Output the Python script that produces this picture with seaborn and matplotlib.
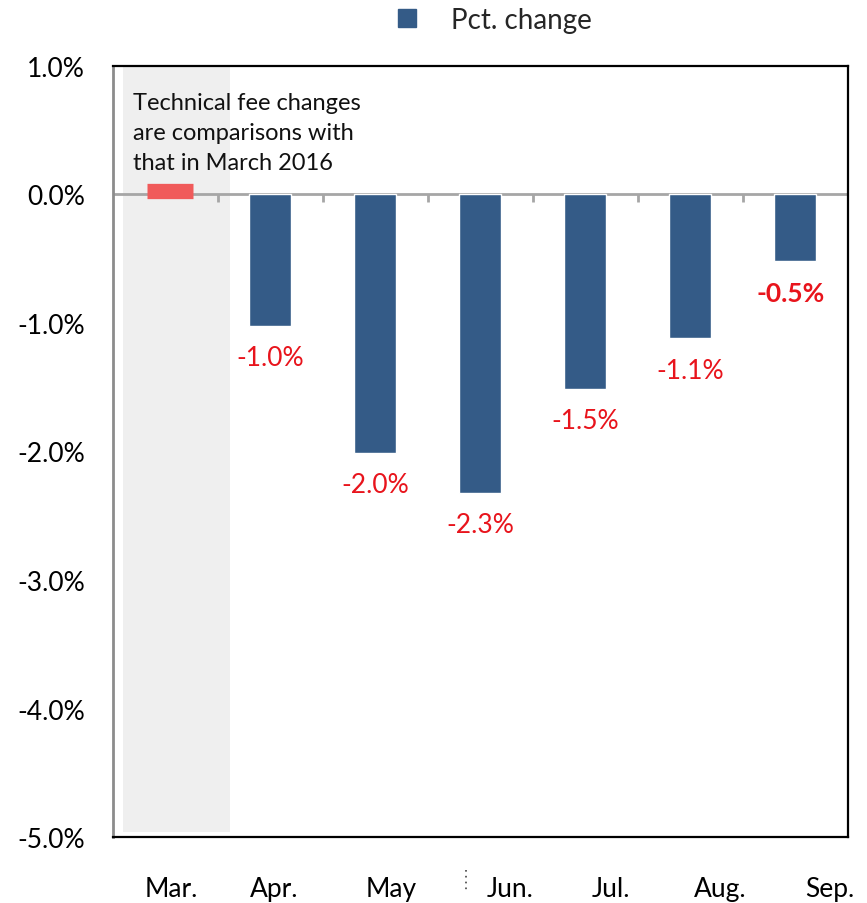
import matplotlib.pyplot as plt
import matplotlib.transforms as mtransforms
from matplotlib.lines import Line2D
import numpy as np
import pandas as pd
import seaborn as sns

# data
months = ["Mar.", "Apr.", "May", "Jun.", "Jul.", "Aug.", "Sep."]
pct_change = [0.0, -1.02, -2.01, -2.32, -1.51, -1.12, -0.52]
value_labels = ["", "-1.0%", "-2.0%", "-2.3%", "-1.5%", "-1.1%", "-0.5%"]
yticks = [1.0, 0.0, -1.0, -2.0, -3.0, -4.0, -5.0]

BLUE = "#345b87"
RED_BAR = "#f05a5a"
RED_TXT = "#e8141c"
GREY = "#8c8c8c"

sns.set_theme(style="white")
plt.rcParams["font.family"] = ["Lato", "DejaVu Sans"]

df = pd.DataFrame({"month": months, "pct": pct_change})
palette = {m: (RED_BAR if i == 0 else BLUE) for i, m in enumerate(months)}

fig = plt.figure(figsize=(8.67, 9.04), dpi=100)
ax = fig.add_axes([0.1303, 0.073, 0.8477, 0.8529])

sns.barplot(data=df, x="month", y="pct", hue="month", palette=palette,
            width=0.4, legend=False, ax=ax, zorder=3, saturation=1)

# March change is ~0, draw as thick red marker
mar = ax.containers[0].patches[0]
mar.set_linewidth(11)
mar.set_edgecolor(RED_BAR)
mar.set_width(0.44)
mar.set_x(-0.18)
mar.set_y(0.03)

# grey shaded note area behind March
ax.axvspan(-0.405, 0.614, ymin=0.006, ymax=1.0, color="#efefef", zorder=0, lw=0)

ax.set_xlim(-0.5, len(months) - 0.5)
ax.set_ylim(-5.0, 1.0)
ax.set_yticks(yticks)
ax.set_yticklabels([f"{v:.1f}%" for v in yticks])
ax.set_xlabel("")
ax.set_ylabel("")

# zero line with category separators
ax.axhline(0, color="#a6a6a6", lw=2, zorder=2)
bounds = np.arange(len(months)) + 0.5
ax.vlines(bounds, -0.06, 0, color="#a6a6a6", lw=2, zorder=2)

for i, (v, lab) in enumerate(zip(pct_change, value_labels)):
    if not lab:
        continue
    bold = i == len(months) - 1
    ax.text(i - (0.05 if bold else 0.0), v - 0.25, lab, ha="center", va="center",
            color=RED_TXT, fontsize=19, fontweight="bold" if bold else "normal", zorder=4)

ax.text(-0.305, 0.8, "Technical fee changes\nare comparisons with\nthat in March 2016",
        ha="left", va="top", fontsize=17, color="#111111", linespacing=1.55, zorder=4)

# spines
for side in ["top", "right", "bottom"]:
    ax.spines[side].set_color("black")
    ax.spines[side].set_linewidth(1.6)
ax.spines["left"].set_color(GREY)
ax.spines["left"].set_linewidth(2)

ax.tick_params(axis="y", direction="inout", length=14, width=2, color=GREY,
               labelsize=19, pad=13, labelcolor="black")
ax.tick_params(axis="x", length=0, labelsize=19, pad=28, labelcolor="black")

# x labels are spread slightly to the right in the original
offsets = [6, 4, 16, 30, 25, 30, 34]
for lab, dx in zip(ax.get_xticklabels(), offsets):
    lab.set_transform(lab.get_transform() + mtransforms.ScaledTranslation(dx / 100, 0, fig.dpi_scale_trans))

fig.add_artist(Line2D([466 / 867, 466 / 867], [1 - 871 / 904, 1 - 893 / 904],
                      color="#444444", lw=1.2, linestyle=(0, (1, 2.5))))

handle = Line2D([], [], marker="s", linestyle="none", markersize=13,
                color=BLUE, markeredgecolor=BLUE)
fig.legend([handle], ["Pct. change"], loc="center", bbox_to_anchor=(0.56, 0.977),
           frameon=False, fontsize=20, handletextpad=0.6, borderaxespad=0)

fig.savefig("out.png", dpi=100)
